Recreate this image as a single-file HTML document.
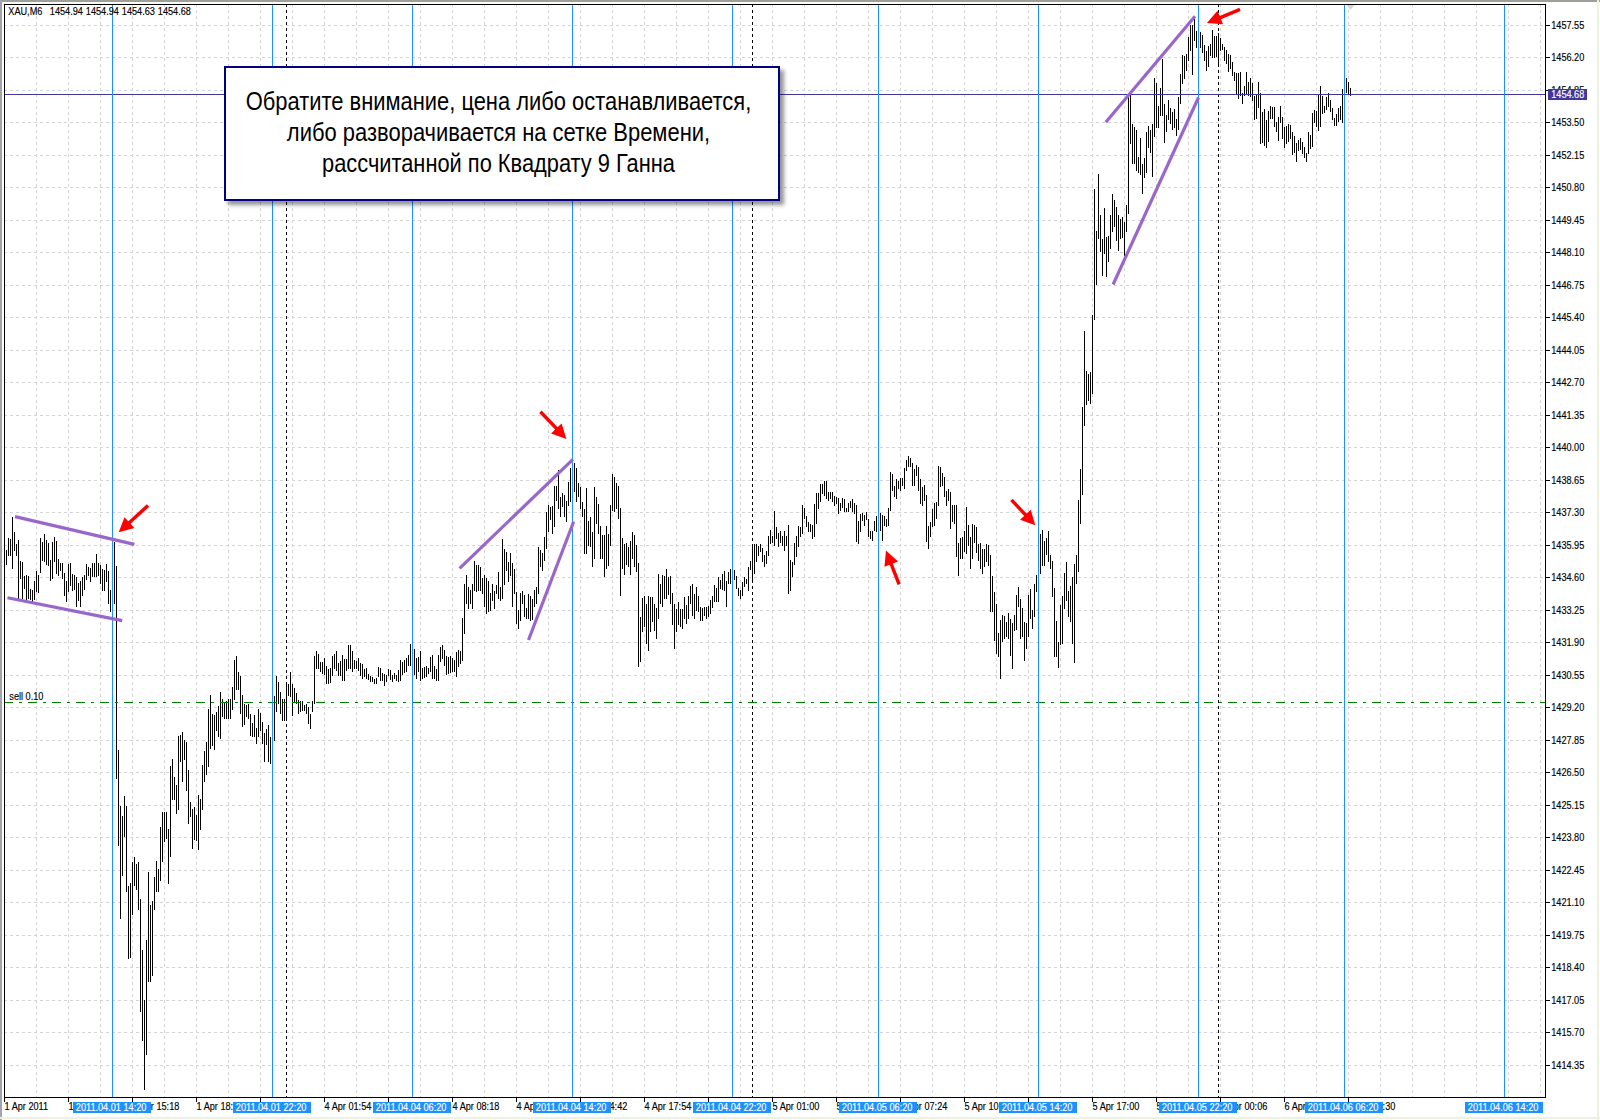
<!DOCTYPE html><html><head><meta charset="utf-8"><title>XAU,M6</title><style>html,body{margin:0;padding:0;background:#fff;width:1600px;height:1120px;overflow:hidden}svg{position:absolute;left:0;top:0}.s{font-family:"Liberation Sans",sans-serif;font-size:10.3px;fill:#000;stroke:#000;stroke-width:0.15px}.w{font-family:"Liberation Sans",sans-serif;font-size:10.3px;fill:#fff;stroke:#fff;stroke-width:0.15px}.box{position:absolute;left:224px;top:66px;width:552px;height:131px;border:2px solid #000080;background:#fff;box-shadow:4px 4px 4px rgba(0,0,0,0.42)}</style></head><body>
<svg width="1600" height="1120" viewBox="0 0 1600 1120">
<rect x="0" y="0" width="1600" height="1120" fill="#ffffff"/>
<rect x="0" y="0" width="1600" height="2" fill="#9f9f9a"/>
<rect x="0" y="0" width="2" height="1120" fill="#a3a3aa"/>
<rect x="0" y="1117" width="1600" height="2" fill="#eef0e2"/>
<rect x="1597" y="0" width="2" height="1120" fill="#eef0e2"/>
<path d="M36.5 4V1097 M68.5 4V1097 M100.5 4V1097 M132.5 4V1097 M164.5 4V1097 M196.5 4V1097 M228.5 4V1097 M260.5 4V1097 M292.5 4V1097 M324.5 4V1097 M356.5 4V1097 M388.5 4V1097 M420.5 4V1097 M452.5 4V1097 M484.5 4V1097 M516.5 4V1097 M548.5 4V1097 M580.5 4V1097 M612.5 4V1097 M644.5 4V1097 M676.5 4V1097 M708.5 4V1097 M740.5 4V1097 M772.5 4V1097 M804.5 4V1097 M836.5 4V1097 M868.5 4V1097 M900.5 4V1097 M932.5 4V1097 M964.5 4V1097 M996.5 4V1097 M1028.5 4V1097 M1060.5 4V1097 M1092.5 4V1097 M1124.5 4V1097 M1156.5 4V1097 M1188.5 4V1097 M1220.5 4V1097 M1252.5 4V1097 M1284.5 4V1097 M1316.5 4V1097 M1348.5 4V1097 M1380.5 4V1097 M1412.5 4V1097 M1444.5 4V1097 M1476.5 4V1097 M1508.5 4V1097 M1540.5 4V1097 M4 25.5H1545 M4 57.5H1545 M4 90.5H1545 M4 122.5H1545 M4 155.5H1545 M4 187.5H1545 M4 220.5H1545 M4 252.5H1545 M4 285.5H1545 M4 317.5H1545 M4 350.5H1545 M4 382.5H1545 M4 415.5H1545 M4 447.5H1545 M4 480.5H1545 M4 512.5H1545 M4 545.5H1545 M4 577.5H1545 M4 610.5H1545 M4 642.5H1545 M4 675.5H1545 M4 707.5H1545 M4 740.5H1545 M4 772.5H1545 M4 805.5H1545 M4 837.5H1545 M4 870.5H1545 M4 902.5H1545 M4 935.5H1545 M4 967.5H1545 M4 1000.5H1545 M4 1032.5H1545 M4 1065.5H1545" stroke="#d4d4d4" stroke-width="1" stroke-dasharray="3 3" fill="none"/>
<path d="M6.5 550V565 M8.5 538V556 M10.5 539V556 M12.5 517V569 M14.5 532V551 M16.5 544V556 M18.5 540V601 M20.5 561V579 M22.5 562V599 M24.5 576V589 M26.5 575V600 M28.5 576V599 M30.5 589V600 M32.5 590V604 M34.5 581V600 M36.5 571V592 M38.5 575V593 M40.5 538V573 M42.5 542V561 M44.5 534V562 M46.5 540V565 M48.5 543V566 M50.5 560V581 M52.5 542V579 M54.5 537V562 M56.5 541V574 M58.5 559V576 M60.5 563V571 M62.5 563V579 M64.5 573V596 M66.5 581V602 M68.5 564V592 M70.5 563V586 M72.5 574V591 M74.5 575V590 M76.5 577V607 M78.5 583V601 M80.5 581V607 M82.5 577V596 M84.5 575V590 M86.5 564V580 M88.5 567V576 M90.5 568V582 M92.5 563V577 M94.5 563V577 M96.5 554V577 M98.5 563V576 M100.5 565V584 M102.5 569V591 M104.5 570V591 M106.5 564V582 M108.5 571V604 M110.5 590V612 M112.5 566V608 M114.5 542V604 M116.5 566V779 M118.5 750V846 M120.5 806V919 M122.5 816V876 M124.5 796V837 M126.5 806V892 M128.5 886V959 M130.5 883V958 M132.5 862V915 M134.5 857V886 M136.5 864V890 M138.5 862V910 M140.5 899V1012 M142.5 950V1041 M144.5 1000V1090 M146.5 940V1055 M148.5 872V982 M150.5 905V982 M152.5 901V976 M154.5 877V910 M156.5 861V892 M158.5 869V892 M160.5 827V881 M162.5 812V862 M164.5 812V842 M166.5 812V839 M168.5 829V884 M170.5 766V857 M172.5 759V800 M174.5 777V800 M176.5 785V814 M178.5 736V810 M180.5 735V762 M182.5 732V782 M184.5 740V760 M186.5 742V791 M188.5 770V824 M190.5 802V817 M192.5 809V849 M194.5 807V840 M196.5 815V841 M198.5 795V850 M200.5 799V830 M202.5 765V810 M204.5 751V782 M206.5 742V775 M208.5 709V767 M210.5 695V749 M212.5 714V746 M214.5 715V750 M216.5 712V731 M218.5 706V737 M220.5 692V739 M222.5 699V717 M224.5 702V719 M226.5 701V719 M228.5 699V719 M230.5 699V719 M232.5 687V710 M234.5 660V700 M236.5 656V690 M238.5 672V690 M240.5 676V714 M242.5 695V727 M244.5 704V725 M246.5 705V717 M248.5 704V719 M250.5 714V736 M252.5 723V737 M254.5 715V737 M256.5 728V744 M258.5 709V737 M260.5 713V731 M262.5 722V744 M264.5 733V762 M266.5 729V745 M268.5 725V762 M270.5 737V764 M272.5 716V752 M274.5 696V741 M276.5 676V712 M278.5 682V704 M280.5 692V714 M282.5 699V721 M284.5 699V721 M286.5 682V721 M288.5 684V696 M290.5 672V697 M292.5 684V716 M294.5 688V703 M296.5 693V704 M298.5 700V714 M300.5 701V712 M302.5 701V711 M304.5 705V711 M306.5 704V714 M308.5 707V724 M310.5 714V729 M312.5 701V712 M314.5 656V704 M316.5 651V669 M318.5 654V669 M320.5 662V672 M322.5 662V674 M324.5 658V675 M326.5 666V684 M328.5 669V684 M330.5 668V683 M332.5 656V676 M334.5 654V669 M336.5 651V671 M338.5 663V676 M340.5 661V676 M342.5 655V681 M344.5 659V681 M346.5 659V671 M348.5 645V669 M350.5 645V669 M352.5 651V672 M354.5 660V669 M356.5 661V669 M358.5 658V671 M360.5 663V676 M362.5 664V679 M364.5 669V677 M366.5 668V679 M368.5 674V680 M370.5 676V682 M372.5 677V682 M374.5 679V684 M376.5 678V684 M378.5 667V677 M380.5 668V681 M382.5 673V681 M384.5 674V686 M386.5 675V682 M388.5 669V676 M390.5 670V680 M392.5 675V682 M394.5 673V679 M396.5 675V681 M398.5 670V682 M400.5 660V681 M402.5 662V675 M404.5 660V673 M406.5 658V672 M408.5 655V666 M410.5 644V666 M412.5 646V670 M414.5 649V675 M416.5 658V679 M418.5 657V672 M420.5 651V681 M422.5 668V679 M424.5 667V678 M426.5 666V677 M428.5 668V674 M430.5 657V672 M432.5 655V679 M434.5 666V679 M436.5 669V681 M438.5 655V681 M440.5 647V662 M442.5 645V659 M444.5 650V666 M446.5 656V675 M448.5 657V674 M450.5 656V673 M452.5 658V672 M454.5 660V672 M456.5 652V677 M458.5 650V667 M460.5 651V664 M462.5 618V661 M464.5 584V634 M466.5 575V604 M468.5 587V609 M470.5 590V604 M472.5 584V609 M474.5 561V591 M476.5 565V592 M478.5 565V591 M480.5 567V591 M482.5 578V594 M484.5 575V607 M486.5 578V614 M488.5 581V612 M490.5 593V611 M492.5 584V601 M494.5 591V609 M496.5 585V594 M498.5 572V599 M500.5 587V601 M502.5 539V599 M504.5 549V585 M506.5 552V571 M508.5 562V582 M510.5 553V576 M512.5 563V607 M514.5 569V594 M516.5 592V624 M518.5 610V629 M520.5 593V621 M522.5 591V604 M524.5 595V617 M526.5 608V619 M528.5 594V619 M530.5 596V621 M532.5 599V620 M534.5 590V607 M536.5 587V604 M538.5 547V594 M540.5 550V567 M542.5 553V571 M544.5 537V561 M546.5 512V549 M548.5 505V532 M550.5 507V520 M552.5 506V534 M554.5 486V527 M556.5 486V501 M558.5 470V509 M560.5 497V517 M562.5 493V507 M564.5 495V517 M566.5 501V522 M568.5 482V506 M570.5 468V502 M572.5 465V497 M574.5 463V492 M576.5 468V502 M578.5 483V497 M580.5 487V509 M582.5 502V517 M584.5 509V554 M586.5 488V554 M588.5 521V546 M590.5 517V547 M592.5 532V567 M594.5 487V559 M596.5 497V524 M598.5 504V534 M600.5 526V559 M602.5 535V559 M604.5 535V577 M606.5 526V569 M608.5 534V566 M610.5 505V546 M612.5 474V511 M614.5 477V512 M616.5 483V509 M618.5 486V519 M620.5 508V596 M622.5 538V569 M624.5 544V575 M626.5 543V565 M628.5 547V567 M630.5 541V575 M632.5 532V559 M634.5 535V567 M636.5 545V572 M638.5 563V667 M640.5 617V662 M642.5 598V632 M644.5 596V627 M646.5 604V644 M648.5 596V651 M650.5 597V632 M652.5 597V622 M654.5 604V631 M656.5 608V639 M658.5 574V619 M660.5 584V604 M662.5 575V607 M664.5 576V599 M666.5 569V599 M668.5 577V595 M670.5 576V604 M672.5 593V625 M674.5 604V649 M676.5 609V632 M678.5 602V625 M680.5 609V627 M682.5 609V629 M684.5 597V619 M686.5 605V624 M688.5 596V619 M690.5 586V604 M692.5 584V616 M694.5 594V619 M696.5 587V611 M698.5 596V612 M700.5 607V621 M702.5 608V621 M704.5 607V616 M706.5 607V619 M708.5 606V617 M710.5 600V614 M712.5 596V608 M714.5 585V602 M716.5 588V602 M718.5 577V602 M720.5 580V589 M722.5 574V590 M724.5 571V591 M726.5 581V607 M728.5 572V584 M730.5 569V584 M732.5 569V582 M734.5 570V580 M736.5 576V589 M738.5 588V596 M740.5 590V599 M742.5 582V596 M744.5 577V587 M746.5 579V584 M748.5 567V591 M750.5 561V570 M752.5 544V582 M754.5 544V574 M756.5 544V562 M758.5 546V556 M760.5 544V552 M762.5 548V562 M764.5 555V567 M766.5 551V564 M768.5 536V556 M770.5 530V544 M772.5 536V543 M774.5 511V546 M776.5 527V539 M778.5 533V547 M780.5 531V543 M782.5 536V546 M784.5 531V551 M786.5 536V546 M788.5 525V594 M790.5 560V591 M792.5 562V577 M794.5 543V565 M796.5 536V557 M798.5 526V547 M800.5 527V537 M802.5 505V534 M804.5 508V519 M806.5 516V527 M808.5 522V532 M810.5 524V532 M812.5 525V539 M814.5 504V537 M816.5 493V524 M818.5 493V509 M820.5 484V502 M822.5 484V494 M824.5 481V496 M826.5 481V499 M828.5 492V501 M830.5 492V499 M832.5 492V502 M834.5 496V506 M836.5 497V504 M838.5 498V514 M840.5 503V511 M842.5 498V508 M844.5 499V512 M846.5 508V512 M848.5 503V512 M850.5 501V508 M852.5 499V512 M854.5 503V514 M856.5 505V542 M858.5 521V544 M860.5 514V532 M862.5 513V521 M864.5 515V526 M866.5 512V520 M868.5 519V537 M870.5 531V539 M872.5 531V541 M874.5 521V531 M876.5 516V532 M878.5 514V531 M880.5 513V531 M882.5 515V541 M884.5 516V526 M886.5 519V527 M888.5 508V526 M890.5 472V511 M892.5 474V491 M894.5 486V497 M896.5 479V499 M898.5 481V489 M900.5 478V491 M902.5 478V486 M904.5 468V489 M906.5 460V471 M908.5 456V467 M910.5 458V467 M912.5 463V486 M914.5 469V486 M916.5 465V476 M918.5 467V491 M920.5 479V504 M922.5 487V506 M924.5 485V501 M926.5 495V542 M928.5 526V549 M930.5 522V537 M932.5 509V527 M934.5 503V526 M936.5 502V519 M938.5 466V506 M940.5 467V487 M942.5 473V486 M944.5 477V497 M946.5 491V506 M948.5 489V501 M950.5 492V529 M952.5 505V522 M954.5 505V524 M956.5 505V557 M958.5 543V576 M960.5 538V559 M962.5 537V559 M964.5 531V552 M966.5 507V554 M968.5 525V546 M970.5 537V569 M972.5 524V559 M974.5 525V543 M976.5 527V553 M978.5 544V561 M980.5 543V569 M982.5 549V574 M984.5 549V567 M986.5 544V562 M988.5 545V566 M990.5 555V612 M992.5 576V612 M994.5 592V641 M996.5 604V654 M998.5 633V657 M1000.5 620V679 M1002.5 615V642 M1004.5 616V639 M1006.5 622V637 M1008.5 613V639 M1010.5 619V656 M1012.5 623V669 M1014.5 615V631 M1016.5 595V630 M1018.5 587V607 M1020.5 599V639 M1022.5 608V637 M1024.5 622V661 M1026.5 623V649 M1028.5 595V637 M1030.5 589V619 M1032.5 610V629 M1034.5 584V617 M1036.5 575V592 M1038.5 554V583 M1040.5 534V574 M1042.5 530V566 M1044.5 541V566 M1046.5 538V555 M1048.5 531V562 M1050.5 555V569 M1052.5 561V597 M1054.5 588V657 M1056.5 621V657 M1058.5 642V668 M1060.5 605V645 M1062.5 596V644 M1064.5 573V609 M1066.5 562V601 M1068.5 591V617 M1070.5 586V622 M1072.5 577V644 M1074.5 564V663 M1076.5 555V584 M1078.5 500V572 M1080.5 469V524 M1082.5 407V495 M1084.5 331V426 M1086.5 371V405 M1088.5 374V401 M1090.5 372V404 M1092.5 315V394 M1094.5 189V320 M1096.5 231V285 M1098.5 174V239 M1100.5 215V252 M1102.5 239V276 M1104.5 208V254 M1106.5 237V277 M1108.5 236V262 M1110.5 215V249 M1112.5 194V232 M1114.5 200V227 M1116.5 207V241 M1118.5 215V251 M1120.5 219V239 M1122.5 217V238 M1124.5 222V256 M1126.5 205V232 M1128.5 95V214 M1130.5 95V144 M1132.5 124V164 M1134.5 127V164 M1136.5 130V171 M1138.5 157V173 M1140.5 138V175 M1142.5 164V194 M1144.5 158V178 M1146.5 132V173 M1148.5 126V148 M1150.5 130V153 M1152.5 124V177 M1154.5 78V137 M1156.5 83V128 M1158.5 106V128 M1160.5 88V116 M1162.5 59V116 M1164.5 104V143 M1166.5 115V132 M1168.5 100V120 M1170.5 108V124 M1172.5 112V130 M1174.5 109V128 M1176.5 119V136 M1178.5 97V130 M1180.5 74V104 M1182.5 55V84 M1184.5 56V79 M1186.5 54V71 M1188.5 37V61 M1190.5 25V51 M1192.5 25V75 M1194.5 19V41 M1196.5 31V48 M1198.5 31V48 M1200.5 32V48 M1202.5 35V53 M1204.5 45V61 M1206.5 51V71 M1208.5 46V67 M1210.5 44V56 M1212.5 30V58 M1214.5 36V58 M1216.5 36V57 M1218.5 33V66 M1220.5 38V51 M1222.5 44V50 M1224.5 47V61 M1226.5 50V64 M1228.5 54V72 M1230.5 55V69 M1232.5 62V76 M1234.5 72V81 M1236.5 73V94 M1238.5 73V99 M1240.5 72V96 M1242.5 93V104 M1244.5 86V96 M1246.5 72V94 M1248.5 82V96 M1250.5 78V97 M1252.5 83V101 M1254.5 96V120 M1256.5 94V119 M1258.5 82V108 M1260.5 93V144 M1262.5 112V143 M1264.5 109V146 M1266.5 120V148 M1268.5 111V142 M1270.5 106V119 M1272.5 107V119 M1274.5 107V127 M1276.5 122V132 M1278.5 117V141 M1280.5 106V123 M1282.5 117V139 M1284.5 127V148 M1286.5 126V144 M1288.5 124V142 M1290.5 125V139 M1292.5 132V155 M1294.5 136V153 M1296.5 143V162 M1298.5 140V151 M1300.5 138V150 M1302.5 142V154 M1304.5 147V158 M1306.5 153V162 M1308.5 132V154 M1310.5 135V149 M1312.5 113V147 M1314.5 110V123 M1316.5 111V127 M1318.5 94V131 M1320.5 86V127 M1322.5 96V114 M1324.5 106V113 M1326.5 97V110 M1328.5 93V107 M1330.5 100V112 M1332.5 108V120 M1334.5 118V126 M1336.5 114V126 M1338.5 108V122 M1340.5 106V120 M1342.5 89V123 M1344.5 83V108 M1346.5 78V93 M1348.5 82V95 M1350.5 88V96" stroke="#000" stroke-width="1" fill="none" shape-rendering="crispEdges"/>
<path d="M286.5 4V1097" stroke="#000" stroke-width="1" stroke-dasharray="3 3" fill="none" shape-rendering="crispEdges"/>
<path d="M752.5 4V1097" stroke="#000" stroke-width="1" stroke-dasharray="3 3" fill="none" shape-rendering="crispEdges"/>
<path d="M1218.5 4V1097" stroke="#000" stroke-width="1" stroke-dasharray="3 3" fill="none" shape-rendering="crispEdges"/>
<path d="M4 702.5H1545" stroke="#008000" stroke-width="1" stroke-dasharray="9 6 3 6" fill="none" shape-rendering="crispEdges"/>
<text transform="matrix(0.89 0 0 1 9.3 700)" class="s">sell 0.10</text>
<path d="M5 94.5H1545" stroke="#40369c" stroke-width="1" fill="none" shape-rendering="crispEdges"/>
<path d="M112.5 5V1097 M272.5 5V1097 M412.5 5V1097 M572.5 5V1097 M732.5 5V1097 M878.5 5V1097 M1038.5 5V1097 M1198.5 5V1097 M1344.5 5V1097 M1504.5 5V1097" stroke="#1e90ff" stroke-width="1" fill="none" shape-rendering="crispEdges"/>
<line x1="15" y1="516.6" x2="134.4" y2="544.4" stroke="#9966cc" stroke-width="3.2"/>
<line x1="7.5" y1="597.7" x2="122.2" y2="620.6" stroke="#9966cc" stroke-width="3.2"/>
<line x1="459.6" y1="568.4" x2="572.9" y2="459.3" stroke="#9966cc" stroke-width="3.2"/>
<line x1="528.5" y1="640" x2="573.7" y2="521.5" stroke="#9966cc" stroke-width="3.2"/>
<line x1="1105.8" y1="122.3" x2="1195" y2="16.3" stroke="#9966cc" stroke-width="3.2"/>
<line x1="1113.1" y1="284.5" x2="1198.5" y2="97.5" stroke="#9966cc" stroke-width="3.2"/>
<polygon points="146.85,504.34 128.27,521.28 124.50,517.14 118.70,532.30 134.33,527.93 130.56,523.79 149.15,506.86" fill="#ff0000"/>
<polygon points="539.17,412.98 555.13,429.61 551.09,433.49 566.40,438.90 561.63,423.38 557.59,427.26 541.63,410.62" fill="#ff0000"/>
<polygon points="900.69,583.79 892.83,563.51 898.05,561.48 886.00,550.60 884.43,566.76 889.65,564.73 897.51,585.01" fill="#ff0000"/>
<polygon points="1010.16,500.96 1024.14,515.88 1020.06,519.71 1035.30,525.30 1030.71,509.73 1026.62,513.56 1012.64,498.64" fill="#ff0000"/>
<polygon points="1239.35,7.83 1219.65,15.98 1217.51,10.81 1206.90,23.10 1223.09,24.30 1220.95,19.13 1240.65,10.97" fill="#ff0000"/>
<polygon points="1346.5,5 1354.5,5 1350.5,10" fill="#d6d6d6"/>
<rect x="4.5" y="4.5" width="1541" height="1093" fill="none" stroke="#000" stroke-width="1" shape-rendering="crispEdges"/>
<path d="M1546 25.5H1550 M1546 57.5H1550 M1546 90.5H1550 M1546 122.5H1550 M1546 155.5H1550 M1546 187.5H1550 M1546 220.5H1550 M1546 252.5H1550 M1546 285.5H1550 M1546 317.5H1550 M1546 350.5H1550 M1546 382.5H1550 M1546 415.5H1550 M1546 447.5H1550 M1546 480.5H1550 M1546 512.5H1550 M1546 545.5H1550 M1546 577.5H1550 M1546 610.5H1550 M1546 642.5H1550 M1546 675.5H1550 M1546 707.5H1550 M1546 740.5H1550 M1546 772.5H1550 M1546 805.5H1550 M1546 837.5H1550 M1546 870.5H1550 M1546 902.5H1550 M1546 935.5H1550 M1546 967.5H1550 M1546 1000.5H1550 M1546 1032.5H1550 M1546 1065.5H1550" stroke="#000" stroke-width="1" fill="none" shape-rendering="crispEdges"/>
<text transform="matrix(0.89 0 0 1 1551.2 29)" class="s">1457.55</text>
<text transform="matrix(0.89 0 0 1 1551.2 61)" class="s">1456.20</text>
<text transform="matrix(0.89 0 0 1 1551.2 94)" class="s">1454.85</text>
<text transform="matrix(0.89 0 0 1 1551.2 126)" class="s">1453.50</text>
<text transform="matrix(0.89 0 0 1 1551.2 159)" class="s">1452.15</text>
<text transform="matrix(0.89 0 0 1 1551.2 191)" class="s">1450.80</text>
<text transform="matrix(0.89 0 0 1 1551.2 224)" class="s">1449.45</text>
<text transform="matrix(0.89 0 0 1 1551.2 256)" class="s">1448.10</text>
<text transform="matrix(0.89 0 0 1 1551.2 289)" class="s">1446.75</text>
<text transform="matrix(0.89 0 0 1 1551.2 321)" class="s">1445.40</text>
<text transform="matrix(0.89 0 0 1 1551.2 354)" class="s">1444.05</text>
<text transform="matrix(0.89 0 0 1 1551.2 386)" class="s">1442.70</text>
<text transform="matrix(0.89 0 0 1 1551.2 419)" class="s">1441.35</text>
<text transform="matrix(0.89 0 0 1 1551.2 451)" class="s">1440.00</text>
<text transform="matrix(0.89 0 0 1 1551.2 484)" class="s">1438.65</text>
<text transform="matrix(0.89 0 0 1 1551.2 516)" class="s">1437.30</text>
<text transform="matrix(0.89 0 0 1 1551.2 549)" class="s">1435.95</text>
<text transform="matrix(0.89 0 0 1 1551.2 581)" class="s">1434.60</text>
<text transform="matrix(0.89 0 0 1 1551.2 614)" class="s">1433.25</text>
<text transform="matrix(0.89 0 0 1 1551.2 646)" class="s">1431.90</text>
<text transform="matrix(0.89 0 0 1 1551.2 679)" class="s">1430.55</text>
<text transform="matrix(0.89 0 0 1 1551.2 711)" class="s">1429.20</text>
<text transform="matrix(0.89 0 0 1 1551.2 744)" class="s">1427.85</text>
<text transform="matrix(0.89 0 0 1 1551.2 776)" class="s">1426.50</text>
<text transform="matrix(0.89 0 0 1 1551.2 809)" class="s">1425.15</text>
<text transform="matrix(0.89 0 0 1 1551.2 841)" class="s">1423.80</text>
<text transform="matrix(0.89 0 0 1 1551.2 874)" class="s">1422.45</text>
<text transform="matrix(0.89 0 0 1 1551.2 906)" class="s">1421.10</text>
<text transform="matrix(0.89 0 0 1 1551.2 939)" class="s">1419.75</text>
<text transform="matrix(0.89 0 0 1 1551.2 971)" class="s">1418.40</text>
<text transform="matrix(0.89 0 0 1 1551.2 1004)" class="s">1417.05</text>
<text transform="matrix(0.89 0 0 1 1551.2 1036)" class="s">1415.70</text>
<text transform="matrix(0.89 0 0 1 1551.2 1069)" class="s">1414.35</text>
<rect x="1548" y="89" width="39" height="11" fill="#40369c"/>
<text transform="matrix(0.89 0 0 1 1551.2 98)" class="w">1454.68</text>
<path d="M4.5 1097V1102 M68.5 1097V1102 M132.5 1097V1102 M196.5 1097V1102 M260.5 1097V1102 M324.5 1097V1102 M388.5 1097V1102 M452.5 1097V1102 M516.5 1097V1102 M580.5 1097V1102 M644.5 1097V1102 M708.5 1097V1102 M772.5 1097V1102 M836.5 1097V1102 M900.5 1097V1102 M964.5 1097V1102 M1028.5 1097V1102 M1092.5 1097V1102 M1156.5 1097V1102 M1220.5 1097V1102 M1284.5 1097V1102 M1348.5 1097V1102" stroke="#000" stroke-width="1" fill="none" shape-rendering="crispEdges"/>
<text transform="matrix(0.89 0 0 1 4.5 1110)" class="s">1 Apr 2011</text>
<text transform="matrix(0.89 0 0 1 68.5 1110)" class="s">1 Apr 12:06</text>
<text transform="matrix(0.89 0 0 1 132.5 1110)" class="s">1 Apr 15:18</text>
<text transform="matrix(0.89 0 0 1 196.5 1110)" class="s">1 Apr 18:30</text>
<text transform="matrix(0.89 0 0 1 260.5 1110)" class="s">1 Apr 21:42</text>
<text transform="matrix(0.89 0 0 1 324.5 1110)" class="s">4 Apr 01:54</text>
<text transform="matrix(0.89 0 0 1 388.5 1110)" class="s">4 Apr 05:06</text>
<text transform="matrix(0.89 0 0 1 452.5 1110)" class="s">4 Apr 08:18</text>
<text transform="matrix(0.89 0 0 1 516.5 1110)" class="s">4 Apr 11:30</text>
<text transform="matrix(0.89 0 0 1 580.5 1110)" class="s">4 Apr 14:42</text>
<text transform="matrix(0.89 0 0 1 644.5 1110)" class="s">4 Apr 17:54</text>
<text transform="matrix(0.89 0 0 1 708.5 1110)" class="s">4 Apr 21:06</text>
<text transform="matrix(0.89 0 0 1 772.5 1110)" class="s">5 Apr 01:00</text>
<text transform="matrix(0.89 0 0 1 836.5 1110)" class="s">5 Apr 04:12</text>
<text transform="matrix(0.89 0 0 1 900.5 1110)" class="s">5 Apr 07:24</text>
<text transform="matrix(0.89 0 0 1 964.5 1110)" class="s">5 Apr 10:36</text>
<text transform="matrix(0.89 0 0 1 1028.5 1110)" class="s">5 Apr 13:48</text>
<text transform="matrix(0.89 0 0 1 1092.5 1110)" class="s">5 Apr 17:00</text>
<text transform="matrix(0.89 0 0 1 1156.5 1110)" class="s">5 Apr 20:12</text>
<text transform="matrix(0.89 0 0 1 1220.5 1110)" class="s">6 Apr 00:06</text>
<text transform="matrix(0.89 0 0 1 1284.5 1110)" class="s">6 Apr 03:18</text>
<text transform="matrix(0.89 0 0 1 1348.5 1110)" class="s">6 Apr 06:30</text>
<rect x="73" y="1102" width="78" height="11" fill="#1e90ff"/>
<text transform="matrix(0.89 0 0 1 75.8 1111)" class="w">2011.04.01 14:20</text>
<rect x="233" y="1102" width="78" height="11" fill="#1e90ff"/>
<text transform="matrix(0.89 0 0 1 235.8 1111)" class="w">2011.04.01 22:20</text>
<rect x="373" y="1102" width="78" height="11" fill="#1e90ff"/>
<text transform="matrix(0.89 0 0 1 375.8 1111)" class="w">2011.04.04 06:20</text>
<rect x="533" y="1102" width="78" height="11" fill="#1e90ff"/>
<text transform="matrix(0.89 0 0 1 535.8 1111)" class="w">2011.04.04 14:20</text>
<rect x="693" y="1102" width="78" height="11" fill="#1e90ff"/>
<text transform="matrix(0.89 0 0 1 695.8 1111)" class="w">2011.04.04 22:20</text>
<rect x="839" y="1102" width="78" height="11" fill="#1e90ff"/>
<text transform="matrix(0.89 0 0 1 841.8 1111)" class="w">2011.04.05 06:20</text>
<rect x="999" y="1102" width="78" height="11" fill="#1e90ff"/>
<text transform="matrix(0.89 0 0 1 1001.8 1111)" class="w">2011.04.05 14:20</text>
<rect x="1159" y="1102" width="78" height="11" fill="#1e90ff"/>
<text transform="matrix(0.89 0 0 1 1161.8 1111)" class="w">2011.04.05 22:20</text>
<rect x="1305" y="1102" width="78" height="11" fill="#1e90ff"/>
<text transform="matrix(0.89 0 0 1 1307.8 1111)" class="w">2011.04.06 06:20</text>
<rect x="1465" y="1102" width="78" height="11" fill="#1e90ff"/>
<text transform="matrix(0.89 0 0 1 1467.8 1111)" class="w">2011.04.06 14:20</text>
<text transform="matrix(0.89 0 0 1 8.3 15)" class="s">XAU,M6</text>
<text transform="matrix(0.89 0 0 1 49.8 15)" class="s">1454.94</text>
<text transform="matrix(0.89 0 0 1 85.8 15)" class="s">1454.94</text>
<text transform="matrix(0.89 0 0 1 121.8 15)" class="s">1454.63</text>
<text transform="matrix(0.89 0 0 1 157.8 15)" class="s">1454.68</text>
</svg>
<div class="box"></div>
<svg width="1600" height="1120" viewBox="0 0 1600 1120" style="pointer-events:none">
<text x="498.5" y="109.6" text-anchor="middle" style='font-family:"Liberation Sans", sans-serif;font-size:25px' textLength="505.5" lengthAdjust="spacingAndGlyphs" fill="#000">Обратите внимание, цена либо останавливается,</text>
<text x="498.5" y="140.5" text-anchor="middle" style='font-family:"Liberation Sans", sans-serif;font-size:25px' textLength="423.3" lengthAdjust="spacingAndGlyphs" fill="#000">либо разворачивается на сетке Времени,</text>
<text x="498.5" y="171.6" text-anchor="middle" style='font-family:"Liberation Sans", sans-serif;font-size:25px' textLength="352.8" lengthAdjust="spacingAndGlyphs" fill="#000">рассчитанной по Квадрату 9 Ганна</text>
</svg>
</body></html>
